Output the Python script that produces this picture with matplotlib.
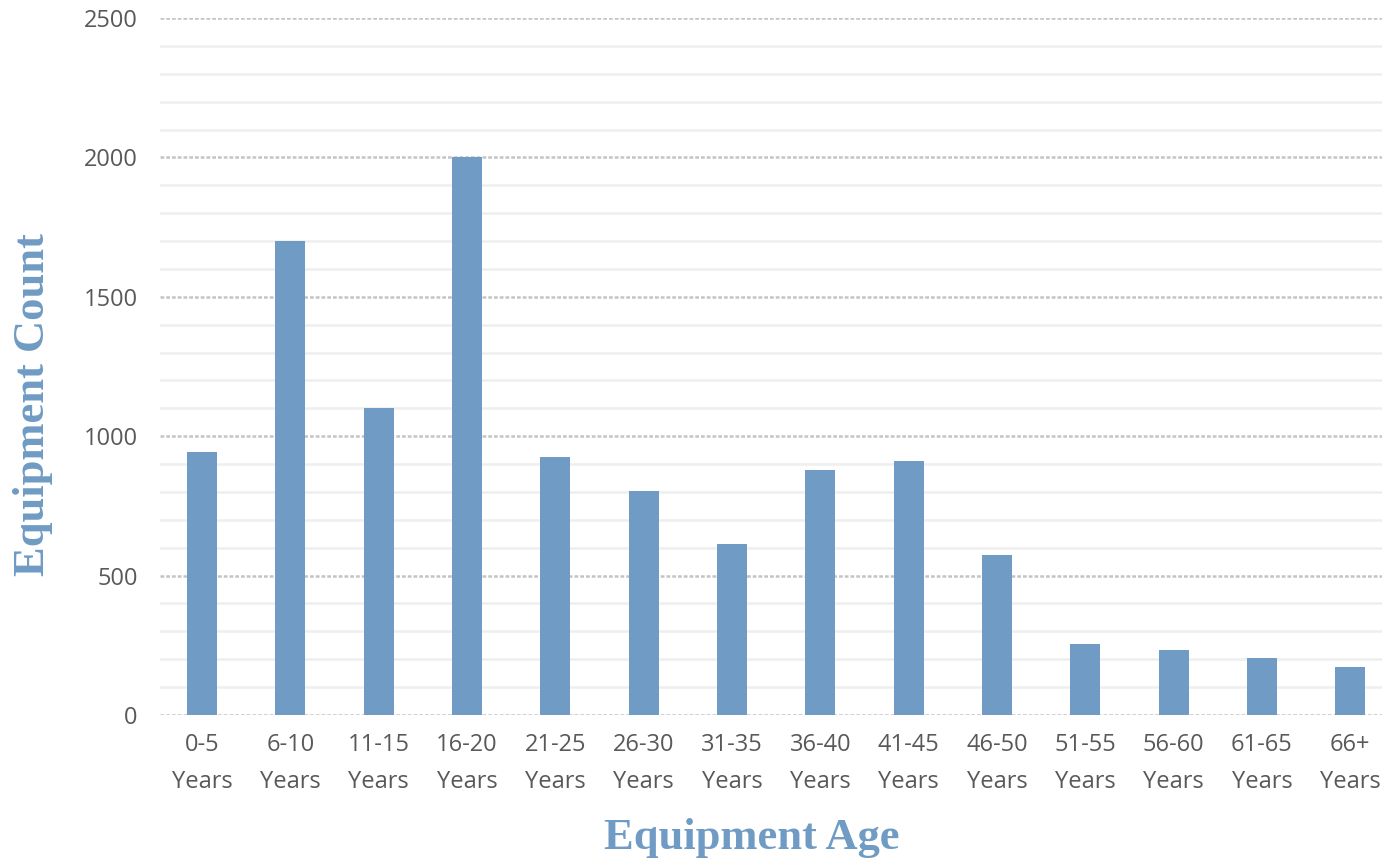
import matplotlib
matplotlib.use("Agg")
import matplotlib.pyplot as plt
import numpy as np
from matplotlib.ticker import MultipleLocator

age_groups = ["0-5\nYears", "6-10\nYears", "11-15\nYears", "16-20\nYears",
              "21-25\nYears", "26-30\nYears", "31-35\nYears", "36-40\nYears",
              "41-45\nYears", "46-50\nYears", "51-55\nYears", "56-60\nYears",
              "61-65\nYears", "66+\nYears"]
equipment_count = [943, 1700, 1100, 2000, 925, 803, 613, 879, 911, 574,
                   255, 233, 206, 173]

bar_color = "#6f9bc4"
text_grey = "#595959"

fig = plt.figure(figsize=(13.82, 8.6), dpi=100)
ax = fig.add_axes([160 / 1382, 1 - 715 / 860, 1222 / 1382, 697 / 860])

x = np.arange(len(age_groups))
ax.bar(x, equipment_count, width=0.34, color=bar_color, zorder=3)

ax.set_xlim(-0.476, 13.36)
ax.set_ylim(0, 2500)
ax.yaxis.set_major_locator(MultipleLocator(500))
ax.yaxis.set_minor_locator(MultipleLocator(100))
ax.grid(which="minor", axis="y", color="#efefef", linewidth=1.8, zorder=0)
ax.grid(which="major", axis="y", color="#c4c4c4", linewidth=1.8,
        linestyle=(0, (1.5, 0.8)), zorder=1)

for side in ["top", "right", "left", "bottom"]:
    ax.spines[side].set_visible(False)
ax.tick_params(axis="both", which="both", length=0)
ax.tick_params(axis="y", pad=16)
ax.tick_params(axis="x", pad=13)

ax.set_xticks(x)
ax.set_xticklabels(age_groups, fontsize=17, color=text_grey,
                   family="Open Sans", linespacing=1.7)
for lbl in ax.get_yticklabels():
    lbl.set_fontsize(17)
    lbl.set_color(text_grey)
    lbl.set_family("Open Sans")

ax.set_xlabel("Equipment Age", fontsize=32, fontweight="bold",
              color=bar_color, family="Liberation Serif")
ax.set_ylabel("Equipment Count", fontsize=32, fontweight="bold",
              color=bar_color, family="Liberation Serif")
ax.xaxis.set_label_coords((752 - 160) / 1222, (715 - 838) / 697)
ax.yaxis.set_label_coords((33 - 160) / 1222, (715 - 405) / 697)
ax.xaxis.label.set_va("center")
ax.yaxis.label.set_va("center")

fig.savefig("out.png", dpi=100)
